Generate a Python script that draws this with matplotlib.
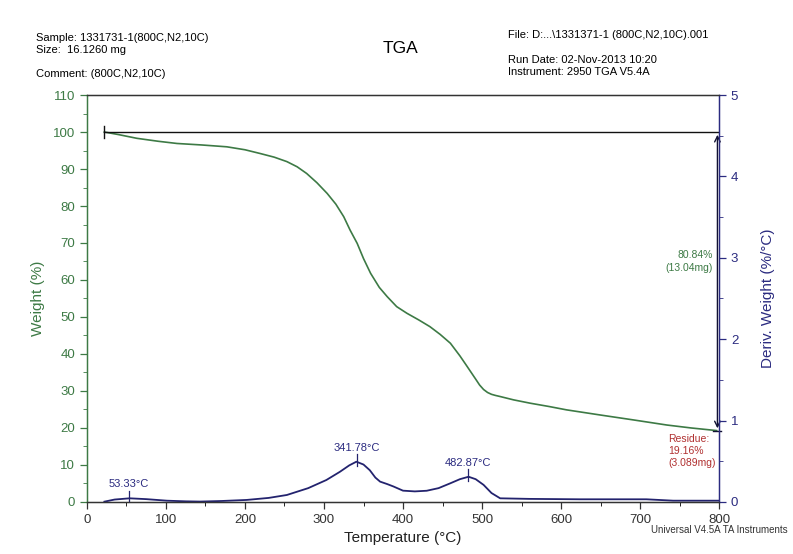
import matplotlib
matplotlib.use('Agg')
import matplotlib.pyplot as plt
import numpy as np

plt.rcParams['font.family'] = ['Liberation Sans', 'DejaVu Sans']

# weight curve (degC, %)
temp_w = [22, 40, 63, 90, 114, 145, 177, 200, 219, 237, 253, 266, 278, 291, 304, 315,
          325, 333, 342, 350, 359, 370, 380, 392, 405, 420, 434, 447, 460, 472, 480,
          486, 492, 497, 502, 507, 512, 517, 523, 540, 561, 585, 607, 650, 691, 734,
          765, 797]
weight = [100.0, 99.3, 98.3, 97.5, 96.9, 96.5, 96.0, 95.2, 94.2, 93.2, 92.0, 90.6, 88.8,
          86.3, 83.4, 80.5, 77.1, 73.5, 69.9, 65.8, 61.8, 58.0, 55.5, 52.8, 51.0, 49.2,
          47.4, 45.3, 42.9, 39.5, 37.0, 35.1, 33.2, 31.6, 30.4, 29.6, 29.1, 28.8, 28.5,
          27.6, 26.7, 25.8, 24.9, 23.5, 22.2, 20.8, 20.0, 19.3]

# derivative curve (degC, %/degC)
temp_d = [22, 35, 54, 75, 101, 125, 143, 170, 202, 230, 253, 280, 303, 320, 332, 341,
          350, 358, 365, 371, 380, 388, 400, 415, 430, 445, 460, 472, 483, 492, 502,
          512, 523, 560, 624, 680, 708, 742, 792, 800]
deriv = [0.004, 0.03, 0.045, 0.035, 0.016, 0.008, 0.005, 0.012, 0.025, 0.05, 0.086,
         0.17, 0.27, 0.37, 0.45, 0.495, 0.46, 0.39, 0.30, 0.25, 0.22, 0.19, 0.139,
         0.13, 0.138, 0.17, 0.23, 0.28, 0.31, 0.28, 0.21, 0.11, 0.045, 0.038, 0.033,
         0.033, 0.033, 0.016, 0.016, 0.016]

peaks_t = [53.33, 341.78, 482.87]
peaks_d = [0.045, 0.495, 0.31]
step_pct = 80.84
step_mg = 13.04
residue_pct = 19.16
residue_mg = 3.089

green = '#3d7a45'
navy = '#2b2b80'
curve_blue = '#23236e'

fig = plt.figure(figsize=(7.93, 5.54), dpi=100)
ax = fig.add_axes([0.1097, 0.0939, 0.797, 0.7346])
ax2 = ax.twinx()

ax.plot(temp_w, weight, color=green, lw=1.2)
ax2.plot(temp_d, deriv, color=curve_blue, lw=1.3)

ax.set_xlim(0, 800)
ax.set_ylim(0, 110)
ax2.set_ylim(0, 5)
ax.set_xticks(np.arange(0, 801, 100))
ax.set_xticks(np.arange(50, 800, 100), minor=True)
ax.set_yticks(np.arange(0, 111, 10))
ax.set_yticks(np.arange(5, 110, 10), minor=True)
ax2.set_yticks(np.arange(0, 6, 1))
ax2.set_yticks(np.arange(0.5, 5, 1), minor=True)

ax.tick_params(axis='y', colors=green, labelsize=9.5, length=5, width=0.9)
ax.tick_params(axis='y', which='minor', colors=green, length=3)
ax.tick_params(axis='x', labelsize=9.5, length=5, width=0.9, colors='#333333')
ax.tick_params(axis='x', which='minor', length=3)
ax2.tick_params(axis='y', colors=navy, labelsize=9.5, length=5, width=0.9)
ax2.tick_params(axis='y', which='minor', colors=navy, length=3)

ax.spines['left'].set_color(green)
ax2.spines['left'].set_color(green)
ax2.spines['right'].set_color(navy)
ax.spines['right'].set_color(navy)
for s in ['left', 'right', 'top', 'bottom']:
    ax2.spines[s].set_linewidth(1.0)
ax2.spines['top'].set_color('#333333')
ax2.spines['bottom'].set_color('#333333')

ax.set_xlabel('Temperature (°C)', fontsize=11, color='#222222', labelpad=4)
ax.set_ylabel('Weight (%)', fontsize=11, color=green, labelpad=6)
ax2.set_ylabel('Deriv. Weight (%/°C)', fontsize=11, color=navy, labelpad=16)

# step annotation: 100 % baseline and double arrow
ax.plot([22, 800], [100, 100], color='#111111', lw=1.0)
ax.plot([22, 22], [98.5, 101.5], color='#111111', lw=1.0)
ax.annotate('', xy=(798, residue_pct), xytext=(798, 100),
            arrowprops=dict(arrowstyle='<->', color='#111133', lw=1.0))
ax.plot([793, 803], [residue_pct, residue_pct], color='#111133', lw=1.0, clip_on=False)
ax.text(792, 65, '%.2f%%\n(%.2fmg)' % (step_pct, step_mg), color=green,
        fontsize=7.5, ha='right', va='center', linespacing=1.3)
ax.text(736, 13.8, 'Residue:\n%.2f%%\n(%.3fmg)' % (residue_pct, residue_mg),
        color='#b03030', fontsize=7.5, ha='left', va='center', linespacing=1.3)

# derivative peaks
for t, d in zip(peaks_t, peaks_d):
    ax2.plot([t, t], [d - 0.05, d + 0.09], color=curve_blue, lw=0.9)
    ax2.text(t, d + 0.11, '%.2f°C' % t, color=navy, fontsize=8,
             ha='center', va='bottom')

# header
fig.text(0.045, 0.931, 'Sample: 1331731-1(800C,N2,10C)', fontsize=8, va='center')
fig.text(0.045, 0.909, 'Size:  16.1260 mg', fontsize=8, va='center')
fig.text(0.045, 0.866, 'Comment: (800C,N2,10C)', fontsize=8, va='center')
fig.text(0.505, 0.913, 'TGA', fontsize=12.5, ha='center', va='center')
fig.text(0.641, 0.936, 'File: D:...\\1331371-1 (800C,N2,10C).001', fontsize=8, va='center')
fig.text(0.641, 0.891, 'Run Date: 02-Nov-2013 10:20', fontsize=8, va='center')
fig.text(0.641, 0.870, 'Instrument: 2950 TGA V5.4A', fontsize=8, va='center')
fig.text(0.993, 0.043, 'Universal V4.5A TA Instruments', fontsize=7, ha='right',
         va='center', color='#333333')

fig.savefig('out.png', dpi=100)
